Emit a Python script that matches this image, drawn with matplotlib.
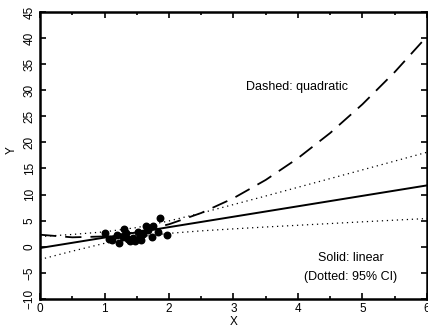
import numpy as np
import matplotlib
matplotlib.use("Agg")
import matplotlib.pyplot as plt
import matplotlib.ticker as mticker

# observed points
pts_x = [1.00, 1.07, 1.11, 1.19, 1.23, 1.31, 1.34, 1.37, 1.39, 1.44, 1.47,
         1.52, 1.55, 1.57, 1.65, 1.67, 1.73, 1.75, 1.83, 1.86, 1.97, 1.28, 1.60]
pts_y = [2.6, 1.4, 1.3, 2.3, 0.8, 3.4, 2.6, 1.4, 1.0, 1.6, 1.0,
         2.9, 1.9, 1.3, 3.9, 3.2, 1.9, 3.9, 2.9, 5.5, 2.3, 1.8, 2.5]

# curves at x = 0, 0.5, ..., 6
grid_x = [0.0, 0.5, 1.0, 1.5, 2.0, 2.5, 3.0, 3.5, 4.0, 4.5, 5.0, 5.5, 6.0]
linear = [-0.25, 0.75, 1.75, 2.75, 3.75, 4.75, 5.75, 6.75, 7.75, 8.75, 9.75, 10.75, 11.75]
ci_upper = [1.95, 2.35, 2.85, 3.67, 4.94, 6.46, 8.08, 9.72, 11.39, 13.06, 14.73, 16.41, 18.1]
ci_lower = [-2.45, -0.85, 0.65, 1.84, 2.56, 3.04, 3.42, 3.78, 4.11, 4.44, 4.77, 5.09, 5.4]
quadratic = [2.3, 1.8, 1.97, 2.8, 4.3, 6.47, 9.3, 12.8, 16.97, 21.8, 27.3, 33.47, 40.3]

plt.rcParams['font.family'] = ['Liberation Sans', 'DejaVu Sans']

fig = plt.figure(figsize=(4.28, 3.31), dpi=100)
ax = fig.add_axes([0.0935, 0.097, 0.904, 0.867])

ax.plot(grid_x, linear, color='black', lw=1.4)
ax.plot(grid_x, quadratic, color='black', lw=1.3, dashes=(9, 5))
ax.plot(grid_x, ci_upper, color='black', lw=0.9, linestyle=(0, (1, 3)))
ax.plot(grid_x, ci_lower, color='black', lw=0.9, linestyle=(0, (1, 3)))
ax.scatter(pts_x, pts_y, s=22, color='black', zorder=3)

ax.text(3.19, 30.6, "Dashed: quadratic", fontsize=9, va='center')
ax.text(4.82, -2.2, "Solid: linear", fontsize=9, va='center', ha='center')
ax.text(4.82, -5.8, "(Dotted: 95% CI)", fontsize=9, va='center', ha='center')

ax.set_xlim(0, 6)
ax.set_ylim(-10, 45)
ax.xaxis.set_major_locator(mticker.MultipleLocator(1))
ax.xaxis.set_minor_locator(mticker.MultipleLocator(0.5))
ax.yaxis.set_major_locator(mticker.MultipleLocator(5))
ax.tick_params(which='both', direction='in', top=True, right=True, width=1.2)
ax.tick_params(which='major', length=4, labelsize=8.5, pad=3)
ax.tick_params(which='minor', length=2.5)
for lab in ax.get_yticklabels():
    lab.set_rotation(90)
    lab.set_va('center')
for sp in ax.spines.values():
    sp.set_linewidth(1.8)

ax.set_xlabel("X", fontsize=8.5, va='center')
ax.set_ylabel("Y", fontsize=8.5, va='center')
ax.xaxis.set_label_coords(0.5, -0.08)
ax.yaxis.set_label_coords(-0.072, 0.52)

fig.savefig("out.png", dpi=100)
